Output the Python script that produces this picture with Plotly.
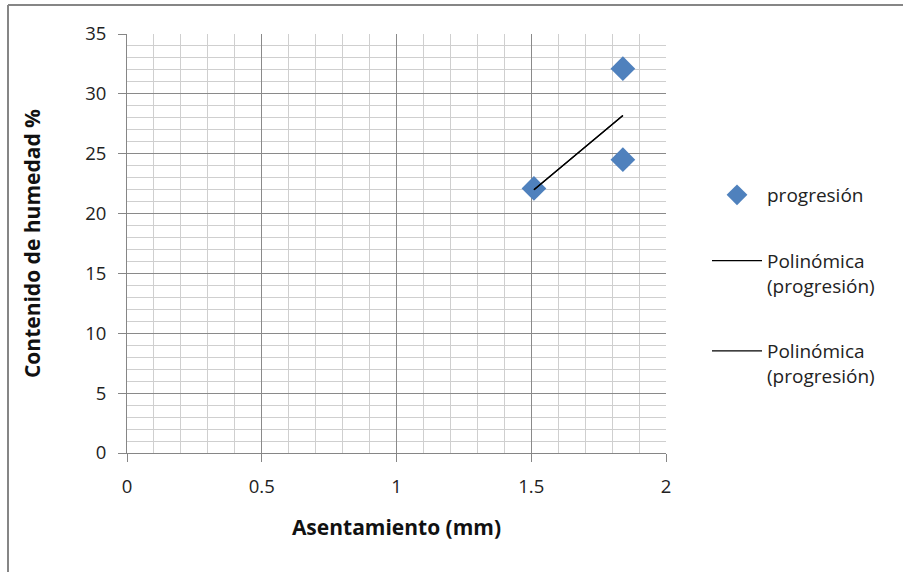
import plotly.graph_objects as go

# Data
asentamiento = [1.51, 1.84, 1.84]
humedad = [22.1, 32.1, 24.5]
trend_x = [1.51, 1.84]
trend_y = [22.0, 28.2]
series_name = "progresión"
trend_name = "Polinómica<br>(progresión)"

FONT = "Open Sans"
W, H = 903, 572
L, R, T, B = 127, 237, 34, 119
pw, ph = W - L - R, H - T - B

def px_to_paper_x(px):
    return (px - L) / pw

def px_to_paper_y(py):
    return (H - B - py) / ph

fig = go.Figure()
fig.add_trace(go.Scatter(
    x=asentamiento, y=humedad, mode="markers", name=series_name,
    marker=dict(symbol="diamond", size=19, color="#4F81BD"),
    legendgroup="a",
))
for g in ["b", "c"]:
    fig.add_trace(go.Scatter(
        x=trend_x, y=trend_y, mode="lines", name=trend_name,
        line=dict(color="black", width=1.3), legendgroup=g,
    ))

axis_common = dict(
    showline=True, linecolor="#868686", linewidth=1,
    ticks="outside", ticklen=8, tickcolor="#868686",
    showgrid=True, gridcolor="#8a8a8a", gridwidth=1,
    zeroline=False, mirror=False,
    tickfont=dict(family=FONT, size=18.5, color="#222"),
)

fig.update_xaxes(
    range=[0, 2], dtick=0.5, tick0=0,
    minor=dict(dtick=0.1, showgrid=True, gridcolor="#cfcfcf", gridwidth=1),
    title=dict(text="<b>Asentamiento (mm)</b>", font=dict(family=FONT, size=21, color="#111"), standoff=23),
    ticklabelstandoff=9,
    **axis_common,
)
fig.update_yaxes(
    range=[0, 35], dtick=5, tick0=0,
    minor=dict(dtick=1, showgrid=True, gridcolor="#cfcfcf", gridwidth=1),
    title=dict(text="<b>Contenido de humedad %</b>", font=dict(family=FONT, size=21, color="#111"), standoff=38),
    ticklabelstandoff=8,
    **axis_common,
)

# outer chart border (top and left visible edges)
fig.add_shape(type="line", xref="paper", yref="paper",
              x0=px_to_paper_x(8), y0=px_to_paper_y(5), x1=px_to_paper_x(903), y1=px_to_paper_y(5),
              line=dict(color="#868686", width=2))
fig.add_shape(type="line", xref="paper", yref="paper",
              x0=px_to_paper_x(8), y0=px_to_paper_y(5), x1=px_to_paper_x(8), y1=px_to_paper_y(572),
              line=dict(color="#868686", width=2))

fig.update_layout(
    width=W, height=H,
    margin=dict(l=L, r=R, t=T, b=B),
    plot_bgcolor="white", paper_bgcolor="white",
    showlegend=True,
    legend=dict(
        x=px_to_paper_x(707), y=px_to_paper_y(176), xanchor="left", yanchor="top",
        font=dict(family=FONT, size=19, color="#222"),
        tracegroupgap=38, bgcolor="rgba(0,0,0,0)", itemwidth=50, valign="top",
    ),
)

fig.write_html("out.html")
